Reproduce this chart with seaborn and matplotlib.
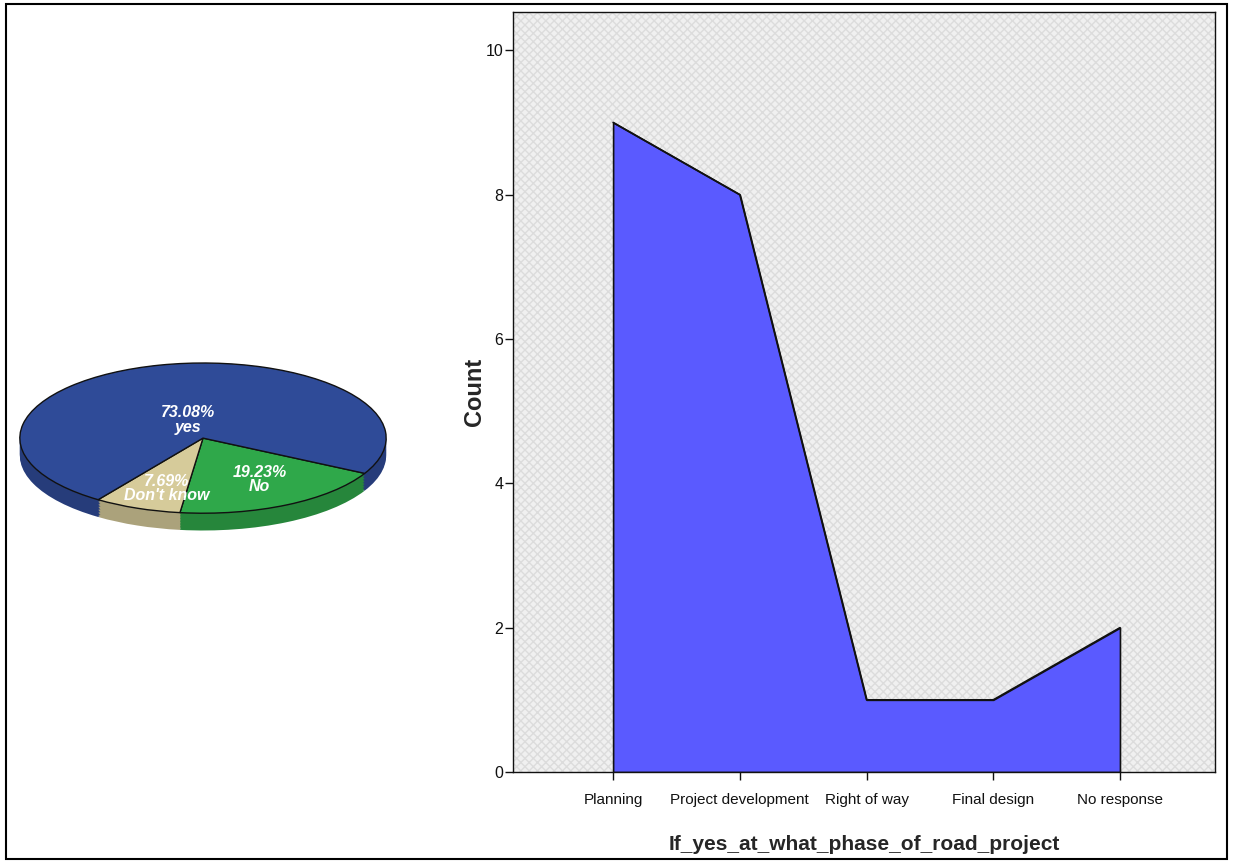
import numpy as np
import matplotlib
matplotlib.use("Agg")
import matplotlib.pyplot as plt
import seaborn as sns
from matplotlib.patches import Rectangle

# pie data
pie_labels = ["No", "Don't know", "yes"]
pie_pcts = [19.23, 7.69, 73.08]
pie_colors = ["#2fa84a", "#d6cb9a", "#2f4b98"]

# area chart data
phases = ["Planning", "Project development", "Right of way",
          "Final design", "No response"]
counts = [9, 8, 1, 1, 2]
yticks = [0, 2, 4, 6, 8, 10]


def darker(c, f=0.7):
    r, g, b = matplotlib.colors.to_rgb(c)
    return (r * f, g * f, b * f)


def main():
    sns.set_style("ticks")
    plt.rcParams['font.family'] = ['Liberation Sans Narrow', 'Liberation Sans',
                                   'DejaVu Sans']
    almost_black = '#111111'

    fig = plt.figure(figsize=(12.33, 8.64), dpi=100)

    # ---- 3D-ish pie on the left ----
    pax = fig.add_axes([18 / 1233, 1 - 535 / 864, 370 / 1233, 175 / 864])
    rim = 0.23
    for k, off in enumerate(np.linspace(-rim, 0, 12)):
        top = k == 11
        cols = pie_colors if top else [darker(c, 0.8) for c in pie_colors]
        pax.pie(pie_pcts, colors=cols, startangle=-28,
                counterclock=False, center=(0, off),
                wedgeprops=dict(edgecolor=almost_black if top else "none",
                                linewidth=1.0 if top else 0))
    pax.set_aspect("auto")
    pax.set_xlim(-1.01, 1.01)
    pax.set_ylim(-1.29, 1.04)
    pax.axis("off")

    # labels at wedge positions
    label_pos = {"yes": (-0.08, 0.24), "No": (0.31, -0.55),
                 "Don't know": (-0.2, -0.67)}
    for lab, pct in zip(pie_labels, pie_pcts):
        x, y = label_pos[lab]
        pax.text(x, y, "%.2f%%\n%s" % (pct, lab), color="white",
                 fontsize=11.5, fontweight="bold", fontstyle="italic",
                 ha="center", va="center", linespacing=0.95,
                 family=['Liberation Sans', 'DejaVu Sans'])

    # ---- area chart on the right ----
    ax = fig.add_axes([513 / 1233, 1 - 772 / 864, 702 / 1233, 760 / 864])
    ax.set_facecolor("#f0f0f0")
    ax.add_patch(Rectangle((0, 0), 1, 1, transform=ax.transAxes,
                           facecolor="none", edgecolor="#dcdcdc",
                           hatch="xxxx", linewidth=0, zorder=0))
    xs = np.arange(len(phases))
    ax.fill_between(xs, counts, 0, facecolor="#5a5aff",
                    edgecolor=almost_black, linewidth=1.2, zorder=2)
    sns.lineplot(x=xs, y=counts, ax=ax, color=almost_black, lw=1.2,
                 zorder=3)

    ax.set_xlim(-0.79, 4.75)
    ax.set_ylim(0, 10.53)
    ax.set_xticks(xs)
    ax.set_xticklabels(phases, fontsize=11)
    ax.set_yticks(yticks)
    ax.set_yticklabels([str(t) for t in yticks], fontsize=11.5)
    ax.tick_params(direction="out", length=6, width=1, colors=almost_black)
    ax.tick_params(axis="x", pad=9)
    ax.tick_params(axis="y", pad=1)
    for s in ax.spines.values():
        s.set_color(almost_black)
        s.set_linewidth(1.0)
    ax.set_xlabel("If_yes_at_what_phase_of_road_project", fontsize=15,
                  fontweight="bold", labelpad=20)
    ax.set_ylabel("Count", fontsize=17, fontweight="bold",
                  family=['Liberation Sans', 'DejaVu Sans'])
    ax.yaxis.set_label_coords(-0.039, 0.5)

    # outer frame
    fig.add_artist(Rectangle((0.005, 0.006), 0.99, 0.989,
                             transform=fig.transFigure, facecolor="none",
                             edgecolor="black", linewidth=1.5))

    fig.savefig("out.png", dpi=100)


if __name__ == "__main__":
    main()
